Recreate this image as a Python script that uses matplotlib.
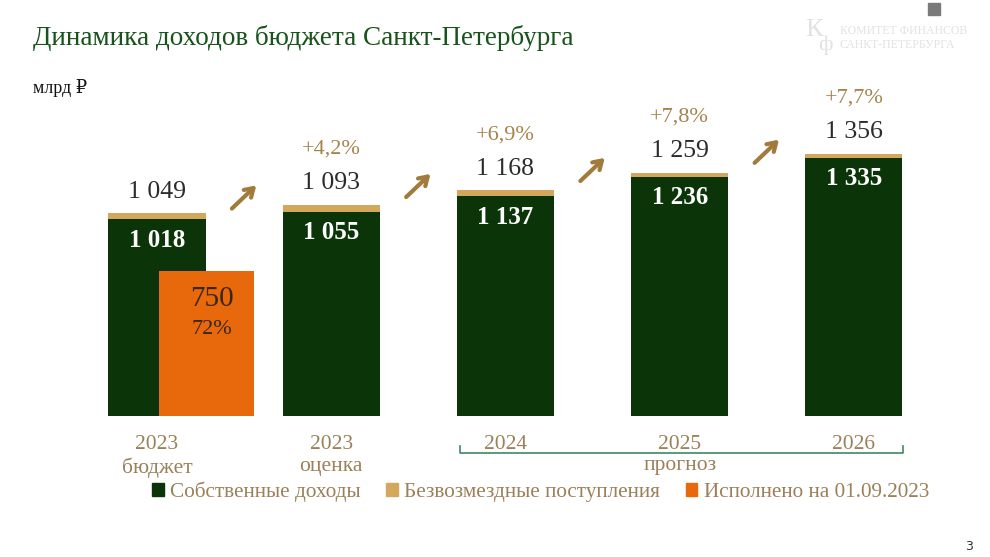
import matplotlib.pyplot as plt
from matplotlib.patches import Patch, Rectangle

# данные, млрд руб.
years = ["2023\nбюджет", "2023\nоценка", "2024", "2025", "2026"]
own_income = [1018, 1055, 1137, 1236, 1335]
total_income = [1049, 1093, 1168, 1259, 1356]
growth = ["", "+4,2%", "+6,9%", "+7,8%", "+7,7%"]
executed = 750
executed_share = "72%"

GREEN = "#0b3508"
GOLD = "#d4a85c"
ORANGE = "#e8690b"
BROWN = "#9c8059"
PCT = "#a5834b"
ARROW = "#a27b3c"

plt.rcParams['font.family'] = ['Liberation Serif', 'DejaVu Serif', 'DejaVu Sans']

fig = plt.figure(figsize=(9.9, 5.57), dpi=100)
ax = fig.add_axes([0, 141 / 557, 1, 336 / 557])

x = list(range(len(years)))
w = 0.557
grants = [t - o for t, o in zip(total_income, own_income)]
ax.bar(x, own_income, w, color=GREEN, zorder=2)
ax.bar(x, grants, w, bottom=own_income, color=GOLD, zorder=2)
ax.bar(0.284, executed, w * 0.98, color=ORANGE, zorder=3)

for i in x:
    ax.annotate(f"{own_income[i]:,}".replace(",", " "), (i, own_income[i]),
                xytext=(0, -15), textcoords="offset points", ha="center", va="center",
                color="white", fontsize=18, fontweight="bold", zorder=4)
    ax.annotate(f"{total_income[i]:,}".replace(",", " "), (i, total_income[i]),
                xytext=(0, 15.5), textcoords="offset points", ha="center", va="center",
                color="#2b2b2b", fontsize=18.5)
    if growth[i]:
        ax.annotate(growth[i], (i, total_income[i]), xytext=(0, 40),
                    textcoords="offset points", ha="center", va="center",
                    color=PCT, fontsize=16)

# стрелки роста между столбцами
for i in range(len(years) - 1):
    ym = (total_income[i] + total_income[i + 1]) / 2 + 62
    ax.annotate("", xy=(i + 0.57, ym + 60), xytext=(i + 0.43, ym - 60),
                arrowprops=dict(arrowstyle="->,head_length=0.6,head_width=0.38",
                                color=ARROW, lw=3.0, shrinkA=0, shrinkB=0))

ax.annotate(str(executed), (0.314, executed), xytext=(0, -20),
            textcoords="offset points", ha="center", va="center", color="#3a2616",
            fontsize=21, zorder=4)
ax.annotate(executed_share, (0.314, executed), xytext=(0, -42),
            textcoords="offset points", ha="center", va="center", color="#3a2616",
            fontsize=16, zorder=4)

ax.set_xlim(-0.901, 4.781)
ax.set_ylim(0, 1738)
ax.set_xticks(x)
ax.set_xticklabels(years, color=BROWN, fontsize=15.5, linespacing=1.2)
ax.tick_params(axis="x", length=0, pad=14)
ax.set_yticks([])
for s in ax.spines.values():
    s.set_visible(False)

# скобка «прогноз»
bx0, bx1 = 2 - 0.261, 4 + 0.281
ax.plot([bx0, bx0, bx1, bx1], [-155, -191, -191, -155], color="#3d8a66", lw=1.2,
        clip_on=False)
ax.annotate("прогноз", (3, 0), xytext=(0, -35.5), textcoords="offset points",
            ha="center", va="center", color=BROWN, fontsize=15.5, annotation_clip=False)

handles = [Patch(color=GREEN, label="Собственные доходы"),
           Patch(color=GOLD, label="Безвозмездные поступления"),
           Patch(color=ORANGE, label="Исполнено на 01.09.2023")]
leg = fig.legend(handles=handles, loc="center", bbox_to_anchor=(0.546, 1 - 492 / 557),
                 ncol=3, frameon=False, handlelength=0.55, handleheight=0.55,
                 handletextpad=0.3, columnspacing=1.2, fontsize=15.3)
for t in leg.get_texts():
    t.set_color(BROWN)

fig.text(33 / 990, 1 - 38 / 557, "Динамика доходов бюджета Санкт-Петербурга",
         color="#17531a", fontsize=19.5, va="center", ha="left")
fig.text(33 / 990, 1 - 88 / 557, "млрд ₽", color="#111111", fontsize=13,
         va="center", ha="left")

# логотип и служебные элементы
fig.text(805 / 990, 1 - 30 / 557, "К", color="#e2e2e2", fontsize=19, va="center")
fig.text(818 / 990, 1 - 45 / 557, "ф", color="#e2e2e2", fontsize=16, va="center")
fig.text(840 / 990, 1 - 38 / 557, "КОМИТЕТ ФИНАНСОВ\nСАНКТ-ПЕТЕРБУРГА", color="#e2e2e2",
         fontsize=8.5, va="center", linespacing=1.15)
fig.patches.append(Rectangle((928 / 990, 1 - 15 / 557), 12 / 990, 12 / 557,
                             transform=fig.transFigure, color="#7a7a7a"))
fig.text(965 / 990, 1 - 547 / 557, "3", color="#333333", fontsize=9, va="center",
         family="DejaVu Sans")

fig.savefig("out.png", dpi=100)
